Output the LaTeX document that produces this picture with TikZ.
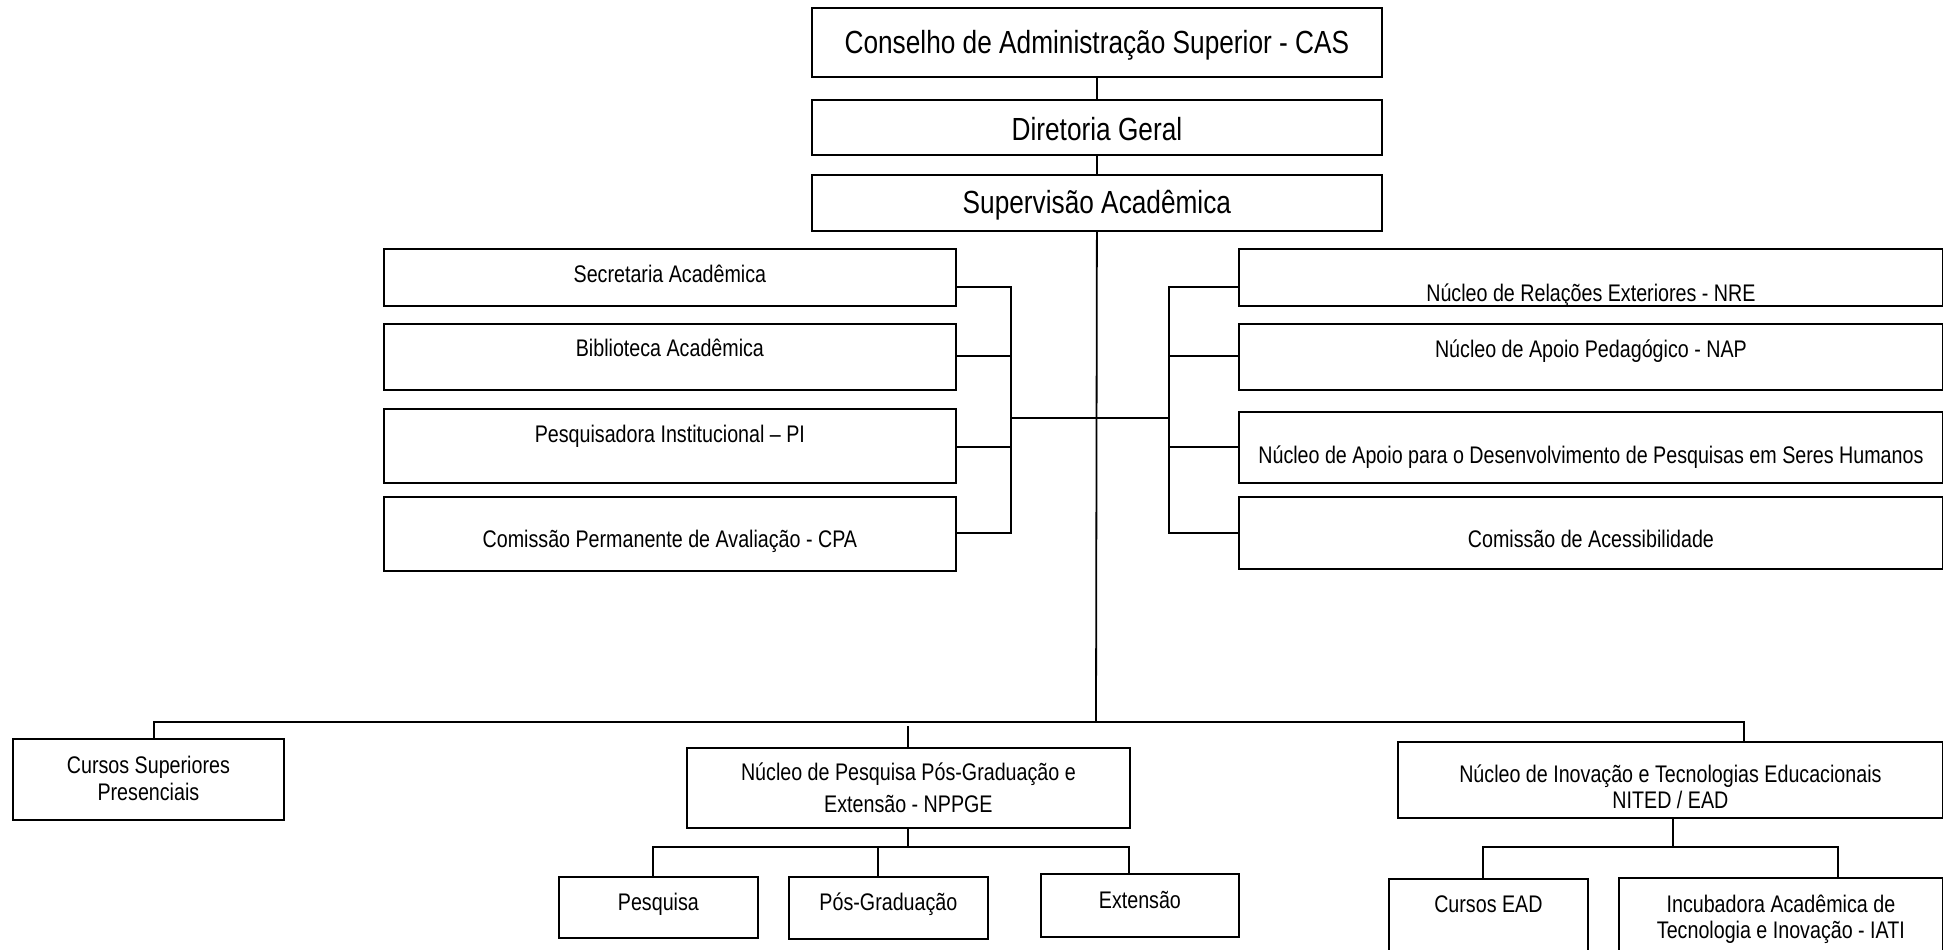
\documentclass[tikz,border=0pt]{standalone}
\usepackage{fontspec}
\setmainfont{Liberation Sans}[FakeStretch=0.82]
\begin{document}
\begin{tikzpicture}[x=1pt,y=-1pt,line width=1.8pt,
  box/.style={draw,line width=1.8pt,inner sep=0pt,anchor=north west,align=center},
  fbig/.style={font=\fontsize{32}{36}\selectfont},
  fmid/.style={font=\fontsize{24}{27}\selectfont}]
\fill[white] (0,0) rectangle (1943,950);
\useasboundingbox (0,0) rectangle (1943,950);
\begin{scope}
\clip (0,0) rectangle (1943,950);
% top
\node[box,fbig,minimum width=570pt,text height=46pt,text depth=23pt] (cas) at (811,7) {Conselho de Administração Superior - CAS};
\node[box,fbig,minimum width=570pt,text height=41pt,text depth=14pt] (dir) at (811,99) {Diretoria Geral};
\node[box,fbig,minimum width=570pt,text height=39pt,text depth=17pt] (sup) at (811,174) {Supervisão Acadêmica};
% left column
\node[box,fmid,minimum width=572pt,text height=34pt,text depth=23pt] (sec) at (383,248) {Secretaria Acadêmica};
\node[box,fmid,minimum width=572pt,text height=33pt,text depth=33pt] (bib) at (383,323) {Biblioteca Acadêmica};
\node[box,fmid,minimum width=572pt,text height=34pt,text depth=40pt] (pes) at (383,408) {Pesquisadora Institucional – PI};
\node[box,fmid,minimum width=572pt,text height=51pt,text depth=23pt] (cpa) at (383,496) {Comissão Permanente de Avaliação - CPA};
% right column
\node[box,fmid,minimum width=704pt,text height=53pt,text depth=4pt] (nre) at (1238,248) {Núcleo de Relações Exteriores - NRE};
\node[box,fmid,minimum width=704pt,text height=34pt,text depth=32pt] (nap) at (1238,323) {Núcleo de Apoio Pedagógico - NAP};
\node[box,fmid,minimum width=704pt,text height=52pt,text depth=19pt] (nad) at (1238,411) {Núcleo de Apoio para o Desenvolvimento de Pesquisas em Seres Humanos};
\node[box,fmid,minimum width=704pt,text height=51pt,text depth=21pt] (ca) at (1238,496) {Comissão de Acessibilidade};
% bottom level
\node[box,fmid,minimum width=271pt,text height=62pt,text depth=19pt] (csp) at (12,738) {Cursos Superiores\\Presenciais};
\node[box,font=\fontsize{24}{32}\selectfont,minimum width=443pt,text height=65pt,text depth=15pt] (npp) at (686,747) {Núcleo de Pesquisa Pós-Graduação e\\Extensão - NPPGE};
\node[box,font=\fontsize{24}{26}\selectfont,minimum width=545pt,text height=67pt,text depth=9pt] (nit) at (1397,741) {Núcleo de Inovação e Tecnologias Educacionais\\NITED / EAD};
% children
\node[box,fmid,minimum width=199pt,text height=34pt,text depth=27pt] (pesq) at (558,876) {Pesquisa};
\node[box,fmid,minimum width=199pt,text height=34pt,text depth=28pt] (pos) at (788,876) {Pós-Graduação};
\node[box,fmid,minimum width=198pt,text height=35pt,text depth=28pt] (ext) at (1040,873) {Extensão};
\node[box,fmid,minimum width=199pt,text height=34pt,text depth=78pt] (cead) at (1388,878) {Cursos EAD};
\node[box,font=\fontsize{24}{26}\selectfont,minimum width=324pt,text height=61pt,text depth=52pt] (inc) at (1618,877) {Incubadora Acadêmica de\\Tecnologia e Inovação - IATI};
% coordinates
\coordinate (lb1) at (1011,287); \coordinate (lb2) at (1011,356);
\coordinate (lb3) at (1011,447); \coordinate (lb4) at (1011,533);
\coordinate (lbm) at (1011,418);
\coordinate (rb1) at (1169,287); \coordinate (rb2) at (1169,356);
\coordinate (rb3) at (1169,447); \coordinate (rb4) at (1169,533);
\coordinate (rbm) at (1169,418);
\coordinate (mb) at (1096,722);
\coordinate (mbl) at (154,722); \coordinate (mbr) at (1744,722);
\coordinate (ngap) at (908,726);
\coordinate (nb) at (908,847);
\coordinate (nb1) at (653,847); \coordinate (nb2) at (878,847); \coordinate (nb3) at (1129,847);
\coordinate (tb) at (1673,847);
\coordinate (tb1) at (1483,847); \coordinate (tb2) at (1838,847);
% connectors
\draw (cas) -- (dir);
\draw (dir) -- (sup);
\draw (sup.south) -- (mb);
\draw (sec.east |- lb1) -- (lb1) -- (lb4) -- (cpa.east |- lb4);
\draw (bib.east |- lb2) -- (lb2);
\draw (pes.east |- lb3) -- (lb3);
\draw (lbm) -- (rbm);
\draw (nre.west |- rb1) -- (rb1) -- (rb4) -- (ca.west |- rb4);
\draw (nap.west |- rb2) -- (rb2);
\draw (nad.west |- rb3) -- (rb3);
\draw (csp.north -| mbl) -- (mbl) -- (mbr) -- (nit.north -| mbr);
\draw (ngap) -- (npp.north -| ngap);
\draw (npp.south -| nb) -- (nb);
\draw (pesq.north -| nb1) -- (nb1) -- (nb3) -- (ext.north -| nb3);
\draw (pos.north -| nb2) -- (nb2);
\draw (nit.south -| tb) -- (tb);
\draw (cead.north -| tb1) -- (tb1) -- (tb2) -- (inc.north -| tb2);
\end{scope}
\end{tikzpicture}
\end{document}
